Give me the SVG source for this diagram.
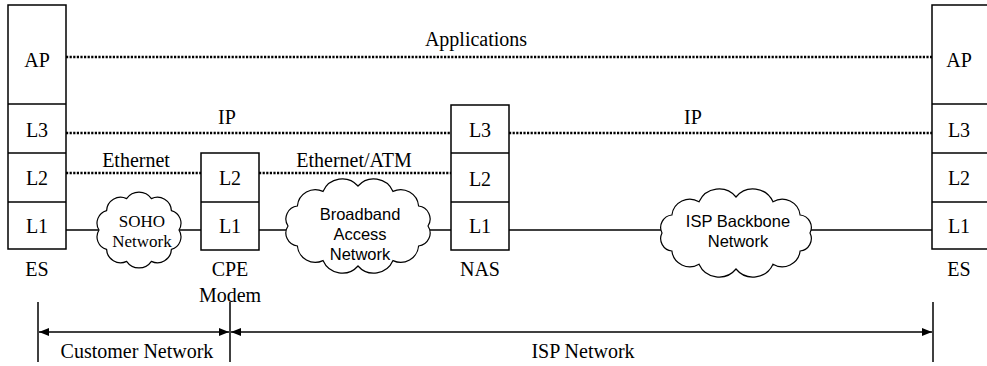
<svg xmlns="http://www.w3.org/2000/svg" width="987" height="366" viewBox="0 0 987 366">
<style>
.box{fill:#fff;stroke:#000;stroke-width:1.5}
.dot{fill:none;stroke:#000;stroke-width:2.5;stroke-dasharray:2.2 1.4}
.ln{fill:none;stroke:#000;stroke-width:1.5}
.cloud{fill:#fff;stroke:#000;stroke-width:1.2}
.t{font-family:"Liberation Serif","Times New Roman",serif;font-size:20px;text-anchor:middle;fill:#000}
.ts{font-family:"Liberation Serif","Times New Roman",serif;font-size:17px;text-anchor:middle;fill:#000}
.s{font-family:"Liberation Sans",Arial,sans-serif;font-size:16.5px;text-anchor:middle;fill:#000}
</style>
<defs>
<marker id="ah" markerWidth="10" markerHeight="8" refX="10" refY="4" orient="auto-start-reverse" markerUnits="userSpaceOnUse">
<path d="M0,0 L10,4 L0,8 Z" fill="#000"/>
</marker>
</defs>
<rect width="987" height="366" fill="#fff"/>
<g id="connectors">
<line class="dot" x1="66" y1="57" x2="932" y2="57"/>
<line class="dot" x1="66" y1="133" x2="451" y2="133"/>
<line class="dot" x1="509" y1="133" x2="932" y2="133"/>
<line class="dot" x1="66" y1="173" x2="201" y2="173"/>
<line class="dot" x1="259" y1="173" x2="451" y2="173"/>
<line class="ln" x1="66" y1="230" x2="102" y2="230"/>
<line class="ln" x1="176" y1="230" x2="201" y2="230"/>
<line class="ln" x1="259" y1="230" x2="292" y2="230"/>
<line class="ln" x1="424" y1="230" x2="451" y2="230"/>
<line class="ln" x1="509" y1="230" x2="666" y2="230"/>
<line class="ln" x1="806" y1="230" x2="932" y2="230"/>
<text class="t" x="476" y="46">Applications</text>
<text class="t" x="227" y="124">IP</text>
<text class="t" x="693" y="124">IP</text>
<text class="t" x="136" y="167">Ethernet</text>
<text class="t" x="354" y="167">Ethernet/ATM</text>
</g>
<g id="es-left">
<rect class="box" x="8" y="5" width="58" height="244"/>
<line class="ln" x1="8" y1="104" x2="66" y2="104"/>
<line class="ln" x1="8" y1="153" x2="66" y2="153"/>
<line class="ln" x1="8" y1="202" x2="66" y2="202"/>
<text class="t" x="37" y="67">AP</text>
<text class="t" x="37" y="137">L3</text>
<text class="t" x="37" y="185">L2</text>
<text class="t" x="37" y="233">L1</text>
<text class="t" x="37" y="276">ES</text>
</g>
<g id="soho">
<path class="cloud" d="M179,230 A13,13 0 0 1 171.4,249.4 A14,14 0 0 1 151.4,261.4 A15,15 0 0 1 126.6,261.4 A14,14 0 0 1 106.6,249.4 A13,13 0 0 1 99,230 A13,13 0 0 1 106.6,210.6 A14,14 0 0 1 126.6,198.6 A15,15 0 0 1 151.4,198.6 A14,14 0 0 1 171.4,210.6 A13,13 0 0 1 179,230 Z"/>
<text class="ts" x="142" y="227">SOHO</text>
<text class="ts" x="142" y="247">Network</text>
</g>
<g id="cpe">
<rect class="box" x="201" y="153" width="58" height="97"/>
<line class="ln" x1="201" y1="202" x2="259" y2="202"/>
<text class="t" x="230" y="185">L2</text>
<text class="t" x="230" y="233">L1</text>
<text class="t" x="230" y="276">CPE</text>
<text class="t" x="230" y="302">Modem</text>
</g>
<g id="broadband">
<path class="cloud" d="M428,226 A13,13 0 0 1 418.6,246 A18,18 0 0 1 393,260.6 A21,21 0 0 1 358,266 A21,21 0 0 1 323,260.6 A18,18 0 0 1 297.4,246 A13,13 0 0 1 288,226 A13,13 0 0 1 297.4,206 A18,18 0 0 1 323,191.4 A21,21 0 0 1 358,186 A21,21 0 0 1 393,191.4 A18,18 0 0 1 418.6,206 A13,13 0 0 1 428,226 Z"/>
<text class="s" x="360" y="220">Broadband</text>
<text class="s" x="360" y="240">Access</text>
<text class="s" x="360" y="260">Network</text>
</g>
<g id="nas">
<rect class="box" x="451" y="105" width="58" height="145"/>
<line class="ln" x1="451" y1="153" x2="509" y2="153"/>
<line class="ln" x1="451" y1="202" x2="509" y2="202"/>
<text class="t" x="480" y="137">L3</text>
<text class="t" x="480" y="186">L2</text>
<text class="t" x="480" y="233">L1</text>
<text class="t" x="480" y="276">NAS</text>
</g>
<g id="isp-backbone">
<path class="cloud" d="M810,233 A12.5,12.5 0 0 1 800.1,251 A18,18 0 0 1 773,264.2 A22,22 0 0 1 736,269 A22,22 0 0 1 699,264.2 A18,18 0 0 1 671.9,251 A12.5,12.5 0 0 1 662,233 A12.5,12.5 0 0 1 671.9,215 A18,18 0 0 1 699,201.8 A22,22 0 0 1 736,197 A22,22 0 0 1 773,201.8 A18,18 0 0 1 800.1,215 A12.5,12.5 0 0 1 810,233 Z"/>
<text class="s" x="738" y="227">ISP Backbone</text>
<text class="s" x="738" y="247">Network</text>
</g>
<g id="es-right">
<rect class="box" x="932" y="5" width="60" height="244"/>
<line class="ln" x1="932" y1="104" x2="992" y2="104"/>
<line class="ln" x1="932" y1="153" x2="992" y2="153"/>
<line class="ln" x1="932" y1="202" x2="992" y2="202"/>
<text class="t" x="959" y="67">AP</text>
<text class="t" x="959" y="137">L3</text>
<text class="t" x="959" y="185">L2</text>
<text class="t" x="959" y="233">L1</text>
<text class="t" x="959" y="276">ES</text>
</g>
<g id="extent">
<line class="ln" x1="38" y1="302" x2="38" y2="362"/>
<line class="ln" x1="230" y1="302" x2="230" y2="362"/>
<line class="ln" x1="933" y1="302" x2="933" y2="362"/>
<line class="ln" x1="39" y1="332" x2="229" y2="332" marker-start="url(#ah)" marker-end="url(#ah)"/>
<line class="ln" x1="231" y1="332" x2="932" y2="332" marker-start="url(#ah)" marker-end="url(#ah)"/>
<text class="t" x="137" y="358">Customer Network</text>
<text class="t" x="583" y="358">ISP Network</text>
</g>
</svg>
